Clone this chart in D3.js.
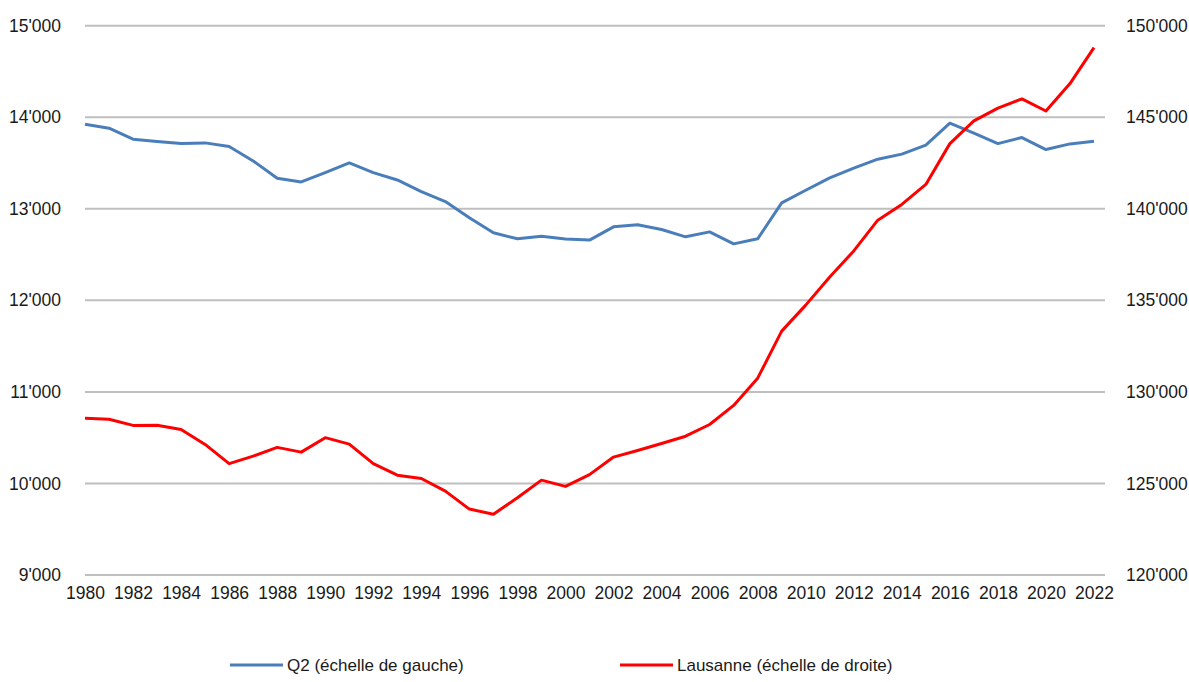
<!DOCTYPE html>
<html lang="fr">
<head>
  <meta charset="UTF-8">
  <title>Q2 et Lausanne, 1980-2022</title>
  <style>
    body { margin: 0; background: #fff; }
    svg text { font-family: "Liberation Sans", Arial, sans-serif; fill: #1a1a1a; }
  </style>
  <script src="https://d3js.org/d3.v7.min.js"></script>
</head>
<body>
  <svg id="chart" width="1189" height="682"></svg>

  <script>
    // years on the category axis
    const years = d3.range(1980, 2023);

    // Q2, left scale
    const q2 = [
      13924, 13880, 13760, 13734, 13712, 13720, 13680, 13523, 13334, 13293,
      13395, 13501, 13395, 13315, 13188, 13079, 12902, 12738, 12672, 12701,
      12669, 12658, 12803, 12825, 12774, 12694, 12748, 12617, 12672, 13065,
      13203, 13338, 13444, 13542, 13597, 13695, 13935, 13826, 13712, 13778,
      13647, 13709, 13738
    ];

    // Lausanne, right scale
    const lausanne = [
      128560, 128510, 128170, 128180, 127950, 127130, 126080, 126490, 126970, 126710,
      127500, 127150, 126080, 125450, 125270, 124580, 123600, 123320, 124220, 125180,
      124840, 125480, 126440, 126800, 127180, 127580, 128220, 129260, 130750, 133320,
      134740, 136270, 137700, 139380, 140240, 141330, 143560, 144800, 145500, 146000,
      145340, 146840, 148800
    ];

    const leftTicks = [9000, 10000, 11000, 12000, 13000, 14000, 15000];
    const rightTicks = [120000, 125000, 130000, 135000, 140000, 145000, 150000];
    const legendLabels = ['Q2 (échelle de gauche)', 'Lausanne (échelle de droite)'];

    const svg = d3.select('#chart');
    const fmt = d3.formatLocale({ decimal: '.', thousands: "'", grouping: [3], currency: ['', ''] }).format(',d');

    const x = d3.scaleLinear().domain([1980, 2022]).range([85, 1094]);
    const yL = d3.scaleLinear().domain([9000, 15000]).range([575, 25.7]);
    const yR = d3.scaleLinear().domain([120000, 150000]).range([575, 25.7]);

    // gridlines
    svg.append('g')
      .selectAll('line')
      .data(leftTicks)
      .join('line')
      .attr('x1', 85)
      .attr('x2', 1105)
      .attr('y1', d => yL(d))
      .attr('y2', d => yL(d))
      .attr('stroke', '#bfbfbf')
      .attr('stroke-width', 2);

    // left axis
    const left = svg.append('g')
      .attr('transform', 'translate(61,0)')
      .call(d3.axisLeft(yL).tickValues(leftTicks).tickFormat(fmt).tickSize(0).tickPadding(0));
    left.select('.domain').remove();
    left.selectAll('text').style('font-size', '17.5px').attr('fill', '#1a1a1a');

    // right axis
    const right = svg.append('g')
      .attr('transform', 'translate(1126,0)')
      .call(d3.axisRight(yR).tickValues(rightTicks).tickFormat(fmt).tickSize(0).tickPadding(0));
    right.select('.domain').remove();
    right.selectAll('text').style('font-size', '17.5px').attr('fill', '#1a1a1a');

    // year axis
    const bottom = svg.append('g')
      .attr('transform', 'translate(0,585)')
      .call(d3.axisBottom(x).tickValues(years.filter(d => d % 2 === 0)).tickFormat(d3.format('d')).tickSize(0).tickPadding(2));
    bottom.select('.domain').remove();
    bottom.selectAll('text').style('font-size', '17.5px').attr('fill', '#1a1a1a');

    // series lines
    const lineL = d3.line().x((d, i) => x(years[i])).y(d => yL(d));
    const lineR = d3.line().x((d, i) => x(years[i])).y(d => yR(d));

    svg.append('path')
      .datum(q2)
      .attr('d', lineL)
      .attr('fill', 'none')
      .attr('stroke', '#4a7ebb')
      .attr('stroke-width', 3)
      .attr('stroke-linejoin', 'round');

    svg.append('path')
      .datum(lausanne)
      .attr('d', lineR)
      .attr('fill', 'none')
      .attr('stroke', '#ff0000')
      .attr('stroke-width', 3)
      .attr('stroke-linejoin', 'round');

    // legend
    const legend = svg.append('g');
    const legendItems = [
      { label: legendLabels[0], color: '#4a7ebb', x0: 230 },
      { label: legendLabels[1], color: '#ff0000', x0: 620 }
    ];
    legendItems.forEach(item => {
      legend.append('line')
        .attr('x1', item.x0).attr('x2', item.x0 + 53)
        .attr('y1', 665).attr('y2', 665)
        .attr('stroke', item.color)
        .attr('stroke-width', 3);
      legend.append('text')
        .attr('x', item.x0 + 57)
        .attr('y', 665)
        .attr('dy', '0.35em')
        .style('font-size', '17px')
        .text(item.label);
    });
  </script>
</body>
</html>
